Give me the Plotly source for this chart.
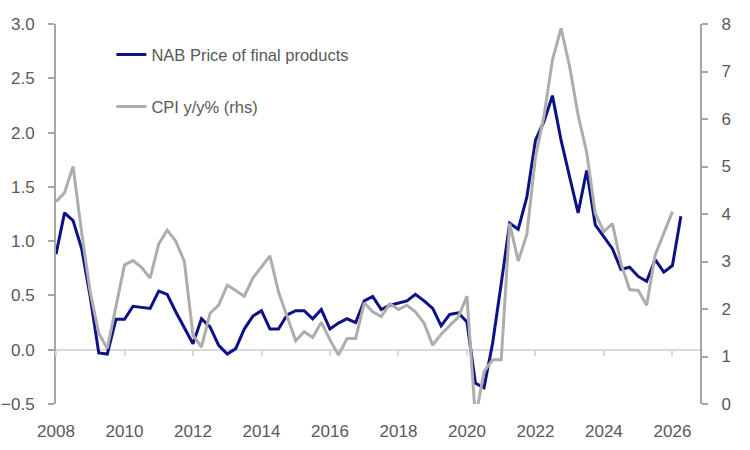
import pandas as pd
import plotly.graph_objects as go

# Quarterly observations starting 2008 Q1
quarters = pd.date_range("2008-01-01", periods=74, freq="QS")

nab_price_final = [
    0.88, 1.26, 1.19, 0.93, 0.48, -0.03, -0.04, 0.28, 0.28, 0.40,
    0.39, 0.38, 0.54, 0.51, 0.35, 0.20, 0.055, 0.285, 0.21, 0.04,
    -0.04, 0.01, 0.19, 0.31, 0.36, 0.19, 0.19, 0.32, 0.36, 0.36,
    0.285, 0.37, 0.19, 0.245, 0.285, 0.25, 0.45, 0.49, 0.37, 0.41,
    0.43, 0.45, 0.51, 0.45, 0.38, 0.22, 0.325, 0.34, 0.255, -0.31,
    -0.35, 0.06, 0.61, 1.165, 1.11, 1.405, 1.93, 2.10, 2.34, 1.93,
    1.59, 1.26, 1.65, 1.15, 1.04, 0.93, 0.74, 0.76, 0.675, 0.63,
    0.83, 0.715, 0.775, 1.23,
]

cpi_yy = [
    4.26, 4.45, 5.00, 3.60, 2.35, 1.49, 1.17, 2.05, 2.93, 3.02,
    2.88, 2.65, 3.37, 3.66, 3.43, 3.00, 1.45, 1.20, 1.91, 2.08,
    2.50, 2.39, 2.27, 2.65, 2.89, 3.12, 2.36, 1.84, 1.33, 1.52,
    1.40, 1.72, 1.35, 1.03, 1.38, 1.38, 2.13, 1.94, 1.84, 2.11,
    1.99, 2.08, 1.94, 1.70, 1.24, 1.47, 1.64, 1.83, 2.27, -0.30,
    0.68, 0.93, 0.93, 3.80, 3.01, 3.57, 5.20, 6.05, 7.24, 7.91,
    7.10, 6.08, 5.30, 4.01, 3.63, 3.80, 2.96, 2.41, 2.39, 2.08,
    3.14, 3.59, 4.05,
]

left_range = [-0.5, 3.0]
right_range = [0, 8]
x_range = ["2008-01-01", "2026-10-22"]

FONT = "Liberation Sans, Arial, sans-serif"
TICK_COLOR = "#595959"
AXIS_COLOR = "#A6A6A6"
ZERO_COLOR = "#D9D9D9"

fig = go.Figure()
fig.add_trace(go.Scatter(
    x=quarters[:len(nab_price_final)], y=nab_price_final,
    name="NAB Price of final products", mode="lines",
    line=dict(color="#0D1186", width=3), xaxis="x", yaxis="y",
    legend="legend",
))
fig.add_trace(go.Scatter(
    x=quarters[:len(cpi_yy)], y=cpi_yy,
    name="CPI y/y% (rhs)", mode="lines",
    line=dict(color="#ADADAD", width=3), xaxis="x2", yaxis="y2",
    legend="legend2",
))

zero_pos = (0 - left_range[0]) / (left_range[1] - left_range[0])

fig.update_layout(
    width=750, height=450,
    margin=dict(l=56, r=50, t=24, b=46, autoexpand=False),
    paper_bgcolor="white", plot_bgcolor="white",
    font=dict(family=FONT, size=17, color=TICK_COLOR),
    xaxis=dict(
        type="date", range=x_range, dtick="M24", tick0="2008-01-01",
        tickformat="%Y", showline=False, showgrid=False, zeroline=False,
        ticks="outside", ticklen=12, tickcolor="rgba(0,0,0,0)",
        automargin=False,
    ),
    xaxis2=dict(
        type="date", range=x_range, dtick="M24", tick0="2008-01-01",
        overlaying="x", anchor="free", position=zero_pos,
        showline=True, linecolor=ZERO_COLOR, linewidth=2,
        ticks="outside", ticklen=5, tickwidth=2, tickcolor=ZERO_COLOR,
        showticklabels=False, showgrid=False, zeroline=False,
        layer="below traces", automargin=False,
    ),
    yaxis=dict(
        range=left_range, dtick=0.5, tickformat=".1f",
        showline=True, linecolor=AXIS_COLOR, linewidth=2,
        ticks="outside", ticklen=6, tickwidth=2, tickcolor=AXIS_COLOR,
        ticklabelstandoff=10, automargin=False,
        showgrid=False, zeroline=False, layer="below traces",
    ),
    yaxis2=dict(
        range=right_range, dtick=1, overlaying="y", side="right", anchor="x2",
        showline=True, linecolor=AXIS_COLOR, linewidth=2,
        ticks="outside", ticklen=6, tickwidth=2, tickcolor=AXIS_COLOR,
        ticklabelstandoff=10, automargin=False,
        showgrid=False, zeroline=False, layer="below traces",
    ),
    legend=dict(
        x=0.086, y=0.919, xanchor="left", yanchor="middle",
        bgcolor="rgba(0,0,0,0)", font=dict(size=16.5, color=TICK_COLOR),
    ),
    legend2=dict(
        x=0.086, y=0.782, xanchor="left", yanchor="middle",
        bgcolor="rgba(0,0,0,0)", font=dict(size=16.5, color=TICK_COLOR),
    ),
    showlegend=True,
)

fig.write_html("out.html")
